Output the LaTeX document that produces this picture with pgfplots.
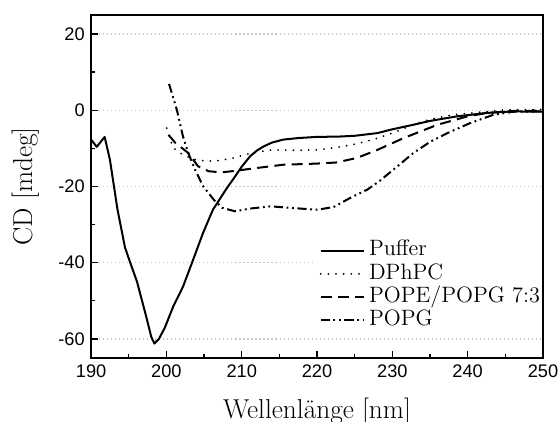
\documentclass[border=0pt]{standalone}
\usepackage{fontspec}
\usepackage{pgfplots}
\pgfplotsset{compat=1.18}
\newfontfamily\tickfont{Liberation Sans}
\begin{document}
\begin{tikzpicture}
\begin{axis}[
  scale only axis,
  width=248pt, height=188.3pt,
  xmin=190, xmax=250, ymin=-65, ymax=25,
  xtick={190,200,...,250}, ytick={-60,-40,...,20},
  minor tick num=1,
  tick pos=left, tick align=inside,
  major tick length=3.8pt, minor tick length=2.2pt,
  axis line style={line width=0.8pt},
  every tick/.style={black, line width=0.7pt},
  /pgf/number format/assume math mode=true,
  tick label style={font=\tickfont\fontsize{10}{12}\selectfont},
  ymajorgrids,
  major grid style={gray!45, line width=0.6pt, dash pattern=on 0.6pt off 1.6pt},
  xlabel={Wellenlänge [nm]}, ylabel={CD [mdeg]},
  label style={font=\fontsize{15}{17}\selectfont},
  xlabel style={at={(axis description cs:0.5,0)}, anchor=base, yshift=-33pt},
  ylabel style={at={(axis description cs:0,0.5)}, anchor=base, yshift=32.4pt},
  legend cell align=left,
  legend image code/.code={\draw[#1] (0pt,0pt) -- (24pt,0pt);},
  legend style={at={(axis description cs:0.493,0.358)}, anchor=north west,
    draw=none, fill=white, inner xsep=3pt, inner ysep=2pt,
    font=\fontsize{12.2}{14}\selectfont,
    nodes={inner ysep=0.5pt, inner xsep=2pt, text height=8.7pt, text depth=3pt}},
]
\addplot[black, line width=1.1pt, line join=round] coordinates {
(190,-7.7) (190.75,-9.6) (191.8,-7.0) (192.5,-13) (193.5,-26) (194.5,-36)
(195.2,-40) (196.1,-45) (197.3,-54) (198.0,-59.5) (198.4,-61.2) (199.0,-60)
(199.8,-57) (200.9,-51.5) (202.2,-46.3) (203.4,-40) (204.9,-32) (206.2,-26)
(206.7,-24.5) (208,-20.5) (208.9,-18) (210,-14.8) (211.1,-12.1) (212.0,-10.6)
(212.9,-9.5) (214,-8.5) (215.5,-7.7) (217.5,-7.3) (219.9,-7.0) (223,-6.9)
(225,-6.7) (228,-6.0) (230,-5.0) (232.8,-3.8) (235,-2.8) (238.6,-1.6)
(242.6,-0.7) (246,-0.3) (250,-0.4)};
\addlegendentry{Puffer}
\addplot[black, line width=1.1pt, line cap=round, dash pattern=on 0pt off 4.2pt] coordinates {
(200.05,-4.7) (200.5,-7.7) (200.9,-9.9) (202,-11.4) (203.4,-12.8) (204.7,-13.2)
(206.3,-13.4) (208.9,-12.5) (211.3,-11.2) (214,-10.4) (217.7,-10.5) (220,-10.4)
(222.2,-9.9) (224.8,-9.0) (227.5,-7.7) (230,-6) (232.8,-3.8) (235,-2.4)
(238,-1.2) (241.7,-0.5) (245,0.1) (250,0.2)};
\addlegendentry{DPhPC}
\addplot[black, line width=1.1pt, dash pattern=on 6pt off 3.5pt] coordinates {
(200.3,-6.5) (201.2,-8.6) (202.9,-11.2) (204.2,-14.7) (205.6,-16) (207.3,-16.3)
(209.1,-15.9) (211.8,-15.2) (215.5,-14.3) (219.9,-14.0) (222.6,-13.7) (225.3,-12.5)
(227.9,-10.5) (231.5,-7.3) (236,-3.8) (240,-1.6) (242.6,-0.7) (246,-0.2) (250,-0.1)};
\addlegendentry{POPE/POPG 7:3}
\addplot[black, line width=1.1pt, dash pattern=on 5pt off 2pt on 1pt off 2pt on 1pt off 2pt] coordinates {
(200.35,6.9) (201.4,0) (202.2,-6.9) (202.9,-11.2) (203.8,-15.6) (204.9,-20)
(206.3,-23.5) (207.4,-25.6) (209.1,-26.5) (211.1,-25.8) (213.8,-25.2) (216.4,-25.6)
(220,-26.1) (222.2,-25.4) (224.4,-23) (226.7,-20.8) (228.4,-18.4) (230.5,-15)
(232.8,-11.2) (235,-8.3) (237.3,-6) (240.3,-3.4) (243.4,-1.2) (246,-0.4) (250,-0.3)};
\addlegendentry{POPG}
\end{axis}
\draw[line width=0.8pt] (current axis.south east) -- (current axis.north east);
\pgfresetboundingbox
\path ([xshift=-50pt,yshift=-34.6pt]current axis.south west) rectangle ([xshift=8.8pt,yshift=8.2pt]current axis.north east);
\end{tikzpicture}
\end{document}
